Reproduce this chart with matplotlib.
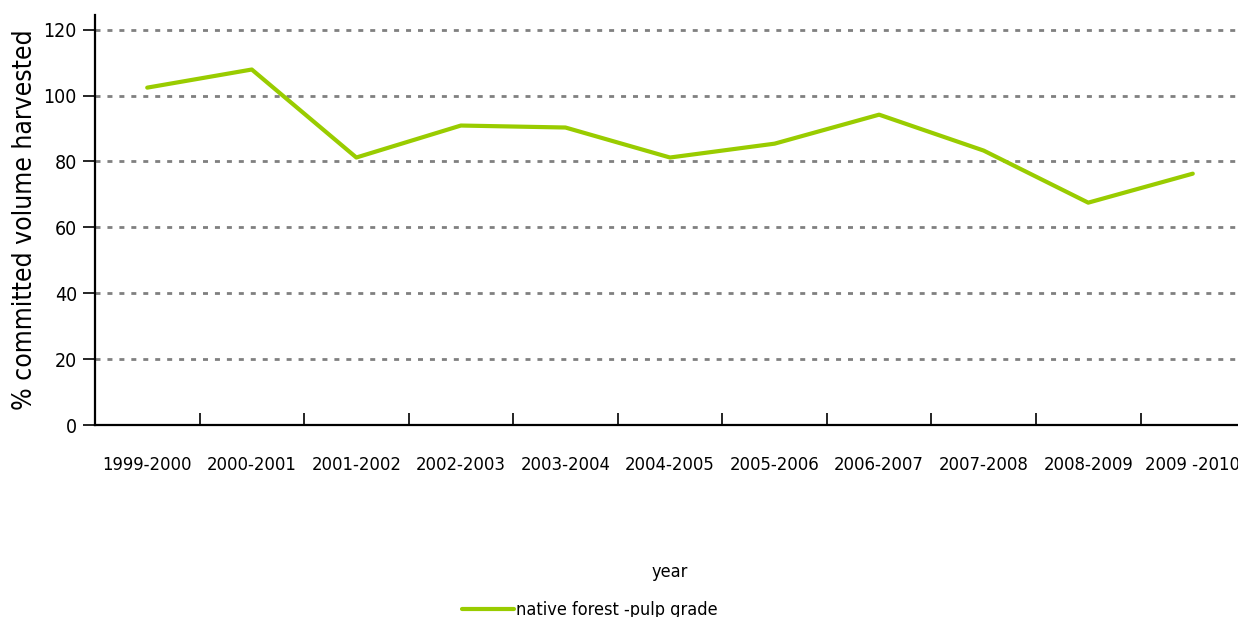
import numpy as np
import matplotlib
matplotlib.use("Agg")
import matplotlib.pyplot as plt
from matplotlib.ticker import FixedLocator, NullFormatter


years = ["1999-2000", "2000-2001", "2001-2002", "2002-2003", "2003-2004",
         "2004-2005", "2005-2006", "2006-2007", "2007-2008", "2008-2009",
         "2009 -2010"]
pulp_grade = [102.4, 107.9, 81.2, 90.9, 90.3, 81.2, 85.4, 94.2, 83.3, 67.5, 76.3]
y_ticks = [0, 20, 40, 60, 80, 100, 120]

plt.rcParams['font.family'] = ['DejaVu Sans']
plt.rcParams['font.stretch'] = 'condensed'

fig = plt.figure(figsize=(12.38, 6.17), dpi=100)
ax = fig.add_axes([0.0767, 0.311, 0.929, 0.665])

x = np.arange(len(years))
ax.plot(x, pulp_grade, color="#99CC00", linewidth=3.0, solid_capstyle="round",
        label="native forest -pulp grade", zorder=3)

ax.set_ylim(0, 124.5)
ax.set_xlim(-0.5, len(years) - 0.5)

ax.set_yticks(y_ticks)
ax.yaxis.grid(True, color="#808080", linestyle=(0, (1.8, 2.5)), linewidth=2.0)
ax.tick_params(axis="y", direction="out", length=9, width=1.2, labelsize=14, pad=4)

# category labels at centres, tick marks at the boundaries
ax.xaxis.set_major_locator(FixedLocator(np.arange(len(years) + 1) - 0.5))
ax.xaxis.set_major_formatter(NullFormatter())
ax.xaxis.set_minor_locator(FixedLocator(x))
ax.set_xticklabels(years, minor=True)
ax.tick_params(axis="x", which="major", direction="in", length=9, width=1.2)
ax.tick_params(axis="x", which="minor", length=0, labelsize=13.2, pad=22)

for s in ["top", "right"]:
    ax.spines[s].set_visible(False)
ax.spines["left"].set_linewidth(1.6)
ax.spines["bottom"].set_linewidth(1.6)

ax.set_ylabel("% committed volume harvested", fontsize=19, labelpad=4)
ax.set_xlabel("year", fontsize=13, labelpad=64)

ax.legend(loc="upper center", bbox_to_anchor=(0.43, -0.39), frameon=False,
          fontsize=13, handlelength=2.9, handletextpad=0.1)

fig.savefig("out.png", dpi=100)
